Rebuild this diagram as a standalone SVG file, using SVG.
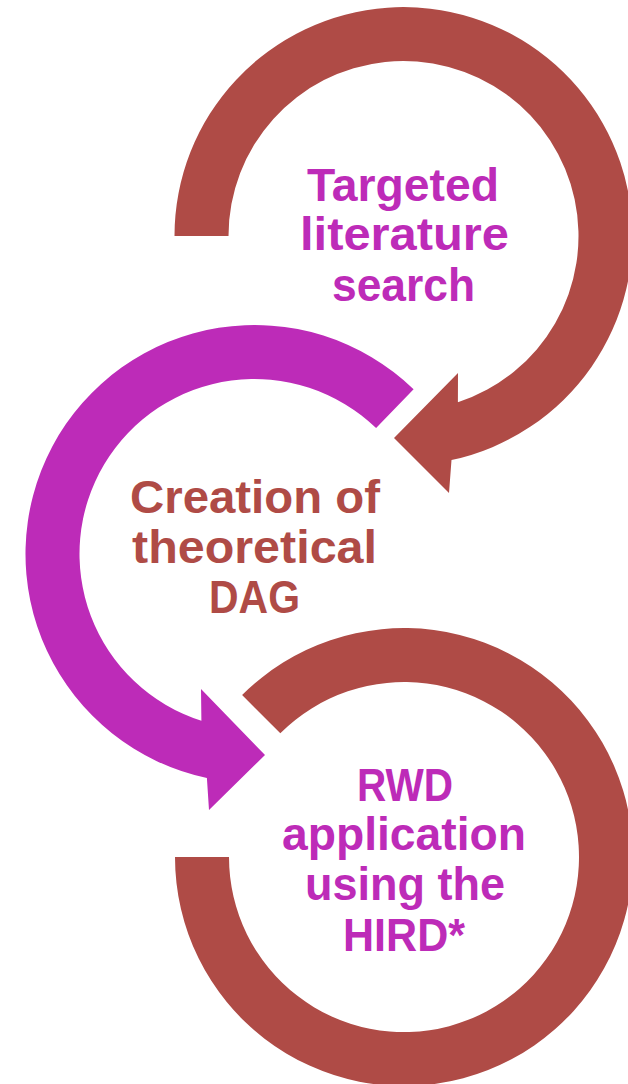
<svg xmlns="http://www.w3.org/2000/svg" width="628" height="1084" viewBox="0 0 628 1084">
  <style>
    .brown { fill: #AF4B46; }
    .purple { fill: #BD2BB8; }
    .label { font-family: "Liberation Sans", Arial, sans-serif; font-weight: bold; font-size: 46px; text-anchor: middle; }
  </style>
  <rect width="628" height="1084" fill="#ffffff"/>

  <!-- Circular arrows (connectors between steps) -->
  <g id="connectors">
    <!-- Step 1 ring: from the left, over the top, arrowhead at lower left -->
    <path id="arrow-1" class="brown" d="M 174.5 236 A 229 229 0 1 1 451.5 460 L 449 493 L 394 438 L 458 373 L 457.9 402.3 A 175 175 0 1 0 228.5 236 Z"/>
    <!-- Step 2 ring: from upper right, round the left, arrowhead at lower right -->
    <path id="arrow-2" class="purple" d="M 413.6 389.3 A 229 229 0 1 0 206.9 778 L 209 810 L 265 755 L 201 689 L 201.4 720.7 A 175 175 0 1 1 376.1 428.1 Z"/>
    <!-- Step 3 ring: open ring, no arrowhead -->
    <path id="arrow-3" class="brown" d="M 175 857 A 229 229 0 1 0 242.1 695.1 L 280.3 733.3 A 175 175 0 1 1 229 857 Z"/>
  </g>

  <g id="node-literature">
    <text class="label purple" x="403" y="201" textLength="192" lengthAdjust="spacingAndGlyphs">Targeted</text>
    <text class="label purple" x="404.5" y="250" textLength="209" lengthAdjust="spacingAndGlyphs">literature</text>
    <text class="label purple" x="403.5" y="301" textLength="143" lengthAdjust="spacingAndGlyphs">search</text>
  </g>

  <g id="node-dag">
    <text class="label brown" x="255" y="513" textLength="250" lengthAdjust="spacingAndGlyphs">Creation of</text>
    <text class="label brown" x="254.5" y="563" textLength="245" lengthAdjust="spacingAndGlyphs">theoretical</text>
    <text class="label brown" x="254.5" y="613" textLength="91" lengthAdjust="spacingAndGlyphs">DAG</text>
  </g>

  <g id="node-rwd">
    <text class="label purple" x="405" y="801" textLength="96" lengthAdjust="spacingAndGlyphs">RWD</text>
    <text class="label purple" x="404" y="850" textLength="244" lengthAdjust="spacingAndGlyphs">application</text>
    <text class="label purple" x="405" y="900" textLength="200" lengthAdjust="spacingAndGlyphs">using the</text>
    <text class="label purple" x="404" y="951" textLength="122" lengthAdjust="spacingAndGlyphs">HIRD*</text>
  </g>
</svg>
